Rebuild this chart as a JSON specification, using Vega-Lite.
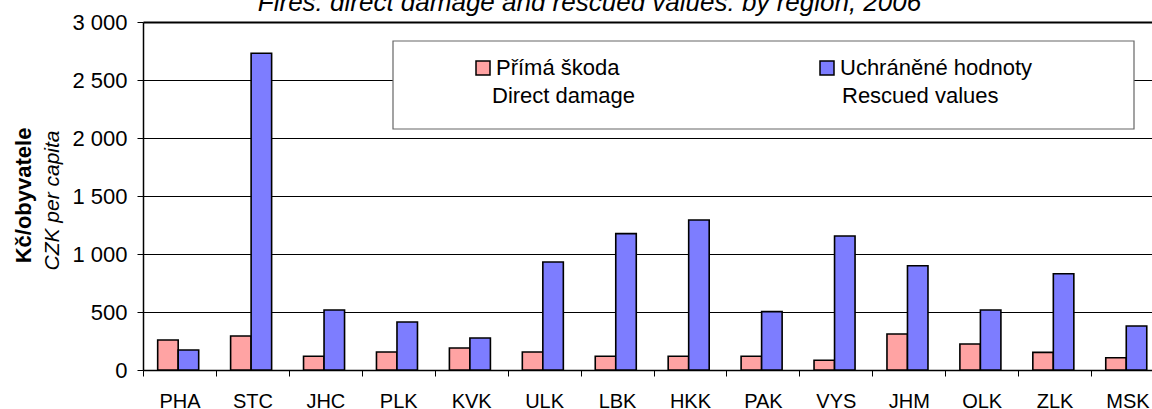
{
  "$schema": "https://vega.github.io/schema/vega-lite/v6.json",
  "autosize": {"type": "none"},
  "padding": {"left": 143, "top": 22, "right": 0, "bottom": 39},
  "width": 1009,
  "height": 348,
  "background": "white",
  "config": {
    "font": "Liberation Sans",
    "view": {"stroke": null}
  },
  "data": {
    "values": [
      {"region": "PHA", "series": "Přímá škoda", "series_en": "Direct damage", "value": 259},
      {"region": "PHA", "series": "Uchráněné hodnoty", "series_en": "Rescued values", "value": 172},
      {"region": "STC", "series": "Přímá škoda", "series_en": "Direct damage", "value": 293},
      {"region": "STC", "series": "Uchráněné hodnoty", "series_en": "Rescued values", "value": 2730},
      {"region": "JHC", "series": "Přímá škoda", "series_en": "Direct damage", "value": 118},
      {"region": "JHC", "series": "Uchráněné hodnoty", "series_en": "Rescued values", "value": 517},
      {"region": "PLK", "series": "Přímá škoda", "series_en": "Direct damage", "value": 155},
      {"region": "PLK", "series": "Uchráněné hodnoty", "series_en": "Rescued values", "value": 414},
      {"region": "KVK", "series": "Přímá škoda", "series_en": "Direct damage", "value": 190},
      {"region": "KVK", "series": "Uchráněné hodnoty", "series_en": "Rescued values", "value": 276},
      {"region": "ULK", "series": "Přímá škoda", "series_en": "Direct damage", "value": 155},
      {"region": "ULK", "series": "Uchráněné hodnoty", "series_en": "Rescued values", "value": 931},
      {"region": "LBK", "series": "Přímá škoda", "series_en": "Direct damage", "value": 118},
      {"region": "LBK", "series": "Uchráněné hodnoty", "series_en": "Rescued values", "value": 1176},
      {"region": "HKK", "series": "Přímá škoda", "series_en": "Direct damage", "value": 118},
      {"region": "HKK", "series": "Uchráněné hodnoty", "series_en": "Rescued values", "value": 1293},
      {"region": "PAK", "series": "Přímá škoda", "series_en": "Direct damage", "value": 118},
      {"region": "PAK", "series": "Uchráněné hodnoty", "series_en": "Rescued values", "value": 503},
      {"region": "VYS", "series": "Přímá škoda", "series_en": "Direct damage", "value": 84},
      {"region": "VYS", "series": "Uchráněné hodnoty", "series_en": "Rescued values", "value": 1155},
      {"region": "JHM", "series": "Přímá škoda", "series_en": "Direct damage", "value": 310},
      {"region": "JHM", "series": "Uchráněné hodnoty", "series_en": "Rescued values", "value": 899},
      {"region": "OLK", "series": "Přímá škoda", "series_en": "Direct damage", "value": 224},
      {"region": "OLK", "series": "Uchráněné hodnoty", "series_en": "Rescued values", "value": 517},
      {"region": "ZLK", "series": "Přímá škoda", "series_en": "Direct damage", "value": 152},
      {"region": "ZLK", "series": "Uchráněné hodnoty", "series_en": "Rescued values", "value": 830},
      {"region": "MSK", "series": "Přímá škoda", "series_en": "Direct damage", "value": 106},
      {"region": "MSK", "series": "Uchráněné hodnoty", "series_en": "Rescued values", "value": 379}
    ]
  },
  "layer": [
    {
      "mark": {"type": "bar", "stroke": "black", "strokeWidth": 1.6},
      "encoding": {
        "x": {
          "field": "region",
          "type": "nominal",
          "sort": null,
          "scale": {"paddingInner": 0, "paddingOuter": 0, "rangeMax": 1021},
          "axis": {
            "orient": "bottom",
            "title": null,
            "labelAngle": 0,
            "labelFont": "Liberation Sans",
            "labelFontSize": 20,
            "labelColor": "black",
            "labelPadding": 15,
            "tickBand": "extent",
            "tickSize": 6,
            "tickColor": "black",
            "tickWidth": 1,
            "domainColor": "black",
            "domainWidth": 1.5,
            "grid": false
          }
        },
        "xOffset": {
          "field": "series",
          "type": "nominal",
          "scale": {"paddingInner": 0, "paddingOuter": 0.778, "align": 0.46}
        },
        "y": {
          "field": "value",
          "type": "quantitative",
          "scale": {"domain": [0, 3000], "nice": false, "zero": true},
          "axis": {
            "orient": "left",
            "values": [0, 500, 1000, 1500, 2000, 2500, 3000],
            "labelExpr": "replace(format(datum.value, ','), ',', ' ')",
            "labelFont": "Liberation Sans",
            "labelFontSize": 22,
            "labelColor": "black",
            "labelPadding": 10,
            "tickSize": 6,
            "tickColor": "black",
            "domainColor": "black",
            "domainWidth": 1.5,
            "grid": true,
            "gridColor": "black",
            "gridWidth": {"condition": {"test": "datum.value === 3000", "value": 2}, "value": 1},
            "title": "CZK per capita",
            "titleFont": "Liberation Sans",
            "titleFontSize": 21,
            "titleFontStyle": "italic",
            "titleFontWeight": "normal",
            "titleColor": "black",
            "titleAngle": 270,
            "titleBaseline": "alphabetic",
            "titleAlign": "center",
            "titleX": -85,
            "titleY": 178
          }
        },
        "fill": {
          "field": "series",
          "type": "nominal",
          "scale": {"range": ["#FFA3A3", "#7D7DFF"]},
          "legend": {
            "orient": "none",
            "legendX": 329,
            "legendY": 35,
            "zindex": 3,
            "direction": "horizontal",
            "columns": 2,
            "columnPadding": 196,
            "title": null,
            "padding": 0,
            "symbolType": "square",
            "symbolSize": 196,
            "symbolStrokeColor": "black",
            "symbolStrokeWidth": 1.5,
            "labelFont": "Liberation Sans",
            "labelFontSize": 22,
            "labelColor": "black",
            "labelOffset": 2,
            "labelLimit": 400
          }
        }
      }
    },
    {
      "mark": {"type": "point", "filled": true, "opacity": 0},
      "encoding": {
        "x": {
          "field": "region",
          "type": "nominal",
          "sort": null,
          "axis": {
            "orient": "top",
            "labels": false,
            "ticks": false,
            "domain": false,
            "grid": false,
            "title": "Fires: direct damage  and rescued values: by region, 2006",
            "titleFont": "Liberation Sans",
            "titleFontSize": 26,
            "titleFontStyle": "italic",
            "titleFontWeight": "normal",
            "titleColor": "black",
            "titleBaseline": "alphabetic",
            "titleAlign": "center",
            "titleAngle": 0,
            "titleX": 446,
            "titleY": -12
          }
        },
        "y": {
          "field": "value",
          "type": "quantitative",
          "axis": {
            "orient": "left",
            "labels": false,
            "ticks": false,
            "domain": false,
            "grid": false,
            "title": "Kč/obyvatele",
            "titleFont": "Liberation Sans",
            "titleFontSize": 22,
            "titleFontWeight": "bold",
            "titleColor": "black",
            "titleAngle": 270,
            "titleBaseline": "alphabetic",
            "titleAlign": "center",
            "titleX": -113,
            "titleY": 173
          }
        },
        "color": {
          "datum": "box",
          "scale": {"range": ["white"]},
          "legend": {
            "orient": "none",
            "legendX": 249,
            "legendY": 18,
            "zindex": 1,
            "title": null,
            "padding": 0,
            "symbolType": "M-1,-1H1V-0.76248H-1Z",
            "symbolSize": 549081,
            "symbolStrokeColor": "#666666",
            "symbolStrokeWidth": 1.2,
            "labelExpr": "''",
            "labelFontSize": 1
          }
        },
        "shape": {
          "field": "series_en",
          "type": "nominal",
          "legend": {
            "orient": "none",
            "legendX": 325,
            "legendY": 63,
            "zindex": 3,
            "direction": "horizontal",
            "columns": 2,
            "columnPadding": 182,
            "title": null,
            "padding": 0,
            "symbolType": "square",
            "symbolSize": 196,
            "symbolOpacity": 0,
            "labelFont": "Liberation Sans",
            "labelFontSize": 22,
            "labelColor": "black",
            "labelOffset": 2,
            "labelLimit": 400
          }
        }
      }
    }
  ],
  "resolve": {"axis": {"x": "independent", "y": "independent"}}
}
